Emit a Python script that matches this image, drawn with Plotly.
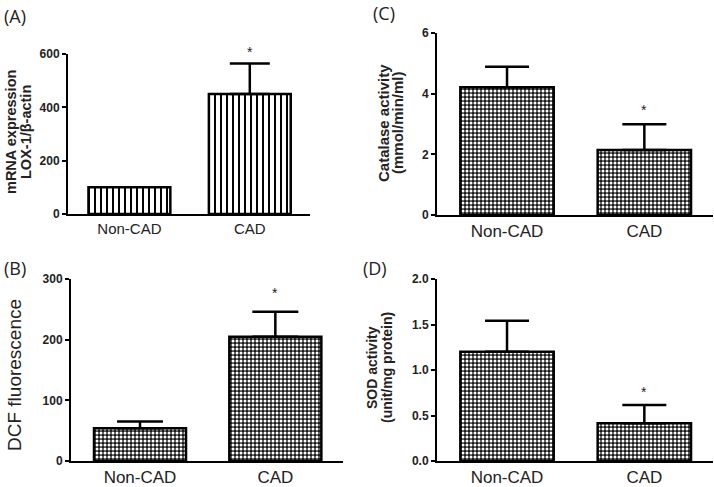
import plotly.graph_objects as go

W, H = 714, 487

categories = ["Non-CAD", "CAD"]
lox1_mean = [100, 450]
lox1_sem = [None, 114]
dcf_mean = [54, 205]
dcf_sem = [11, 41]
catalase_mean = [4.21, 2.14]
catalase_sem = [0.68, 0.85]
sod_mean = [1.2, 0.415]
sod_sem = [0.34, 0.2]
significant = [False, True]

lox1_ticks = [0, 200, 400, 600]
dcf_ticks = [0, 100, 200, 300]
catalase_ticks = [0, 2, 4, 6]
sod_ticks = [0.0, 0.5, 1.0, 1.5, 2.0]
sod_ticklabels = ["0.0", "0.5", "1.0", "1.5", "2.0"]


def px(p):
    return p / W


def py(p):
    return 1 - p / H


panels = [
    dict(key="1", mean=lox1_mean, sem=lox1_sem, ticks=lox1_ticks, ticktext=None, ymax=600,
         xd=(68, 310), yd=(54, 214), shape="|", cap=20, catfs=15, star=2),
    dict(key="2", mean=catalase_mean, sem=catalase_sem, ticks=catalase_ticks, ticktext=None, ymax=6,
         xd=(437, 713), yd=(33, 215), shape=".", cap=22, catfs=17, star=4),
    dict(key="3", mean=dcf_mean, sem=dcf_sem, ticks=dcf_ticks, ticktext=None, ymax=300,
         xd=(71, 343), yd=(279, 461), shape=".", cap=23, catfs=17, star=9),
    dict(key="4", mean=sod_mean, sem=sod_sem, ticks=sod_ticks, ticktext=sod_ticklabels, ymax=2,
         xd=(437, 713), yd=(279, 461), shape=".", cap=22, catfs=17, star=3),
]

fig = go.Figure()
layout = dict(
    template="none",
    width=W, height=H, margin=dict(l=0, r=0, t=0, b=0, autoexpand=False),
    paper_bgcolor="white", plot_bgcolor="white", showlegend=False,
    font=dict(family="Liberation Sans, Arial, sans-serif", color="#222"),
)
annotations = []

for p in panels:
    k = p["key"]
    xa = "x" if k == "1" else "x" + k
    ya = "y" if k == "1" else "y" + k
    if p["shape"] == "|":
        pattern = dict(shape="|", fgcolor="black", bgcolor="white", size=6, solidity=0.33)
        bar_color = "white"
    else:
        pattern = dict(shape=".", fgcolor="white", bgcolor="#1a1a1a", size=4, solidity=0.45)
        bar_color = "#1a1a1a"
    fig.add_trace(go.Bar(
        x=categories, y=p["mean"], xaxis=xa, yaxis=ya, width=0.68,
        marker=dict(color=bar_color, pattern=pattern, line=dict(color="black", width=2.5)),
        hoverinfo="skip",
    ))
    ex = [c for c, e in zip(categories, p["sem"]) if e is not None]
    ey = [m for m, e in zip(p["mean"], p["sem"]) if e is not None]
    ee = [e for e in p["sem"] if e is not None]
    fig.add_trace(go.Scatter(
        x=ex, y=ey, xaxis=xa, yaxis=ya, mode="markers",
        marker=dict(size=1, color="rgba(0,0,0,0)"),
        error_y=dict(type="data", symmetric=False, array=ee, arrayminus=[0] * len(ee),
                     color="black", thickness=2.5, width=p["cap"]),
        hoverinfo="skip",
    ))
    for c, m, e, s in zip(categories, p["mean"], p["sem"], significant):
        if s:
            annotations.append(dict(
                x=c, y=m + (e or 0), xref=xa, yref=ya, text="*", showarrow=False,
                yanchor="bottom", yshift=p["star"],
                font=dict(size=14, color="#222", family="Liberation Sans, Arial"),
            ))
    xkey = "xaxis" if k == "1" else "xaxis" + k
    ykey = "yaxis" if k == "1" else "yaxis" + k
    layout[xkey] = dict(
        domain=[px(p["xd"][0]), px(p["xd"][1])], anchor=ya, type="category",
        range=[-0.51, 1.5], showline=True, linecolor="black", linewidth=2,
        ticks="", showgrid=False, zeroline=False, fixedrange=True, automargin=False,
        tickfont=dict(size=p["catfs"], color="#222", family="Liberation Sans, Arial"),
    )
    layout[ykey] = dict(
        domain=[py(p["yd"][1]), py(p["yd"][0])], anchor=xa,
        range=[0, p["ymax"]], showline=True, linecolor="black", linewidth=2,
        ticks="outside", ticklen=4, tickwidth=2, tickcolor="black",
        tickvals=p["ticks"],
        ticktext=["<b>%s</b>" % t for t in (p["ticktext"] or [str(t) for t in p["ticks"]])],
        showgrid=False, zeroline=False, fixedrange=True, automargin=False,
        tickfont=dict(size=12, color="#222", family="Liberation Sans, Arial"),
    )


def vlabel(text, xp, yp, size, bold=True):
    annotations.append(dict(
        x=px(xp), y=py(yp), xref="paper", yref="paper",
        text=("<b>%s</b>" % text) if bold else text, textangle=-90,
        showarrow=False, xanchor="center", yanchor="middle",
        font=dict(size=size, color="#222", family="Liberation Sans, Arial"),
    ))


vlabel("mRNA expression", 11, 132, 14.5)
vlabel("LOX-1/β-actin", 26, 132, 14.5)
vlabel("Catalase activity", 383, 123, 15)
vlabel("(mmol/min/ml)", 397, 123, 15)
vlabel("SOD activity", 372, 368, 14)
vlabel("(unit/mg protein)", 387, 368, 14)
vlabel("DCF fluorescence", 14, 375, 19, bold=False)

panel_font = dict(size=18, color="#222", family="Open Sans, Noto Sans, sans-serif")
for txt, xp, yp in [("(A)", 15, 16), ("(C)", 384, 13), ("(B)", 15, 268), ("(D)", 375, 268)]:
    annotations.append(dict(
        x=px(xp), y=py(yp), xref="paper", yref="paper", text=txt, showarrow=False,
        xanchor="center", yanchor="middle", font=panel_font,
    ))

layout["annotations"] = annotations
fig.update_layout(**layout)
fig.write_html(
    "out.html",
    config={"displayModeBar": False},
    post_script="document.body.style.margin='0px';document.body.style.overflow='hidden';",
)
